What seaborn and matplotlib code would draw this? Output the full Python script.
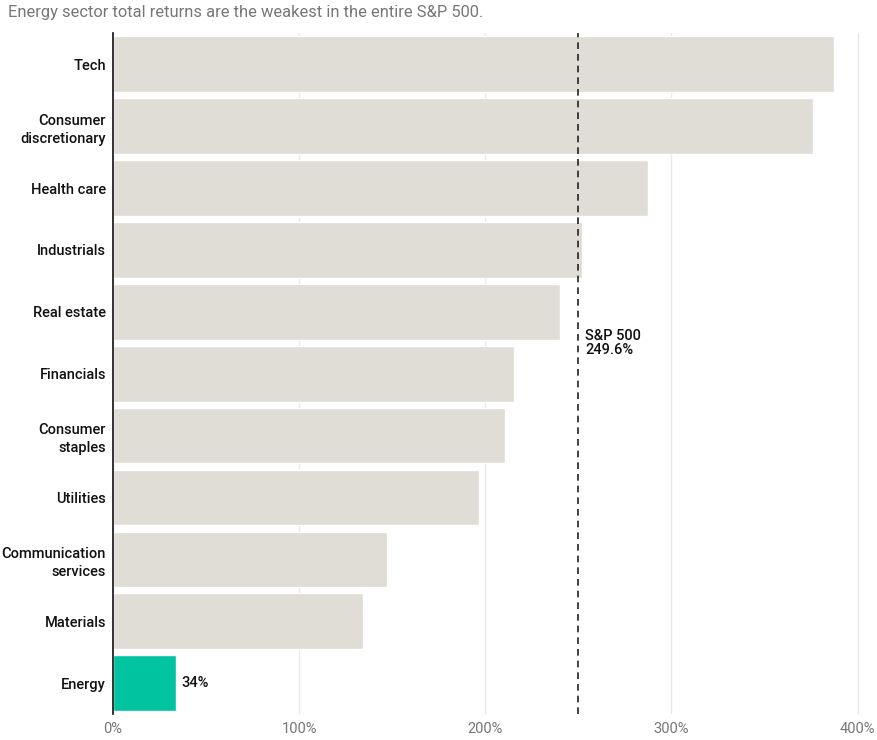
import matplotlib
matplotlib.use("Agg")
import matplotlib.pyplot as plt
import seaborn as sns
import pandas as pd

# dados
setores = ["Tech", "Consumer\ndiscretionary", "Health care", "Industrials", "Real estate",
           "Financials", "Consumer\nstaples", "Utilities", "Communication\nservices",
           "Materials", "Energy"]
retornos = [387.5, 376.0, 287.5, 252.0, 240.0, 215.5, 210.5, 196.5, 147.0, 134.5, 34.0]
sp500 = 249.6
ticks = [0, 100, 200, 300, 400]

sns.set_theme(style="white")
plt.rcParams["font.family"] = ["Roboto", "DejaVu Sans"]

df = pd.DataFrame({"setor": setores, "retorno": retornos})
cores = ["#e0ddd6"] * (len(setores) - 1) + ["#00c4a0"]

fig = plt.figure(figsize=(8.78, 7.4), dpi=100)
ax = fig.add_axes([0.1287, 0.035, 0.8713, 0.92])

sns.barplot(data=df, x="retorno", y="setor", hue="setor", palette=cores,
            legend=False, width=0.9, saturation=1, ax=ax, zorder=2)

ax.set_xlim(0, 411)
ax.set_xticks(ticks)
ax.set_xticklabels([f"{t}%" for t in ticks], color="#777777", fontsize=10.5)
ax.xaxis.grid(True, color="#e8e8e8", linewidth=1, zorder=0)
ax.set_axisbelow(True)
ax.tick_params(axis="x", length=0, pad=6)
ax.tick_params(axis="y", length=0, pad=5, labelsize=10.5, labelcolor="#111111")
for lbl in ax.get_yticklabels():
    lbl.set_fontweight("medium")
    lbl.set_linespacing(1.4)
ax.set_xlabel("")
ax.set_ylabel("")
for s in ["top", "right", "bottom"]:
    ax.spines[s].set_visible(False)
ax.spines["left"].set_color("#111111")
ax.spines["left"].set_linewidth(1.2)
ax.spines["left"].set_zorder(5)

# linha do S&P 500
ax.axvline(sp500, color="#222222", linestyle=(0, (4, 3)), linewidth=1.2, zorder=4)
ax.text(sp500 + 4, 4.5, f"S&P 500\n{sp500}%", fontsize=10.5, color="#111111",
        va="center", ha="left", linespacing=1.0, fontweight="medium")

# rótulo da energia
ax.text(retornos[-1] + 3, len(setores) - 1, f"{retornos[-1]:.0f}%", fontsize=10.5,
        color="#111111", va="center", ha="left", fontweight="medium")

fig.text(0.009, 0.983, "Energy sector total returns are the weakest in the entire S&P 500.",
         fontsize=11.9, color="#777777", ha="left", va="center")

fig.savefig("out.png", dpi=100)
plt.close()
